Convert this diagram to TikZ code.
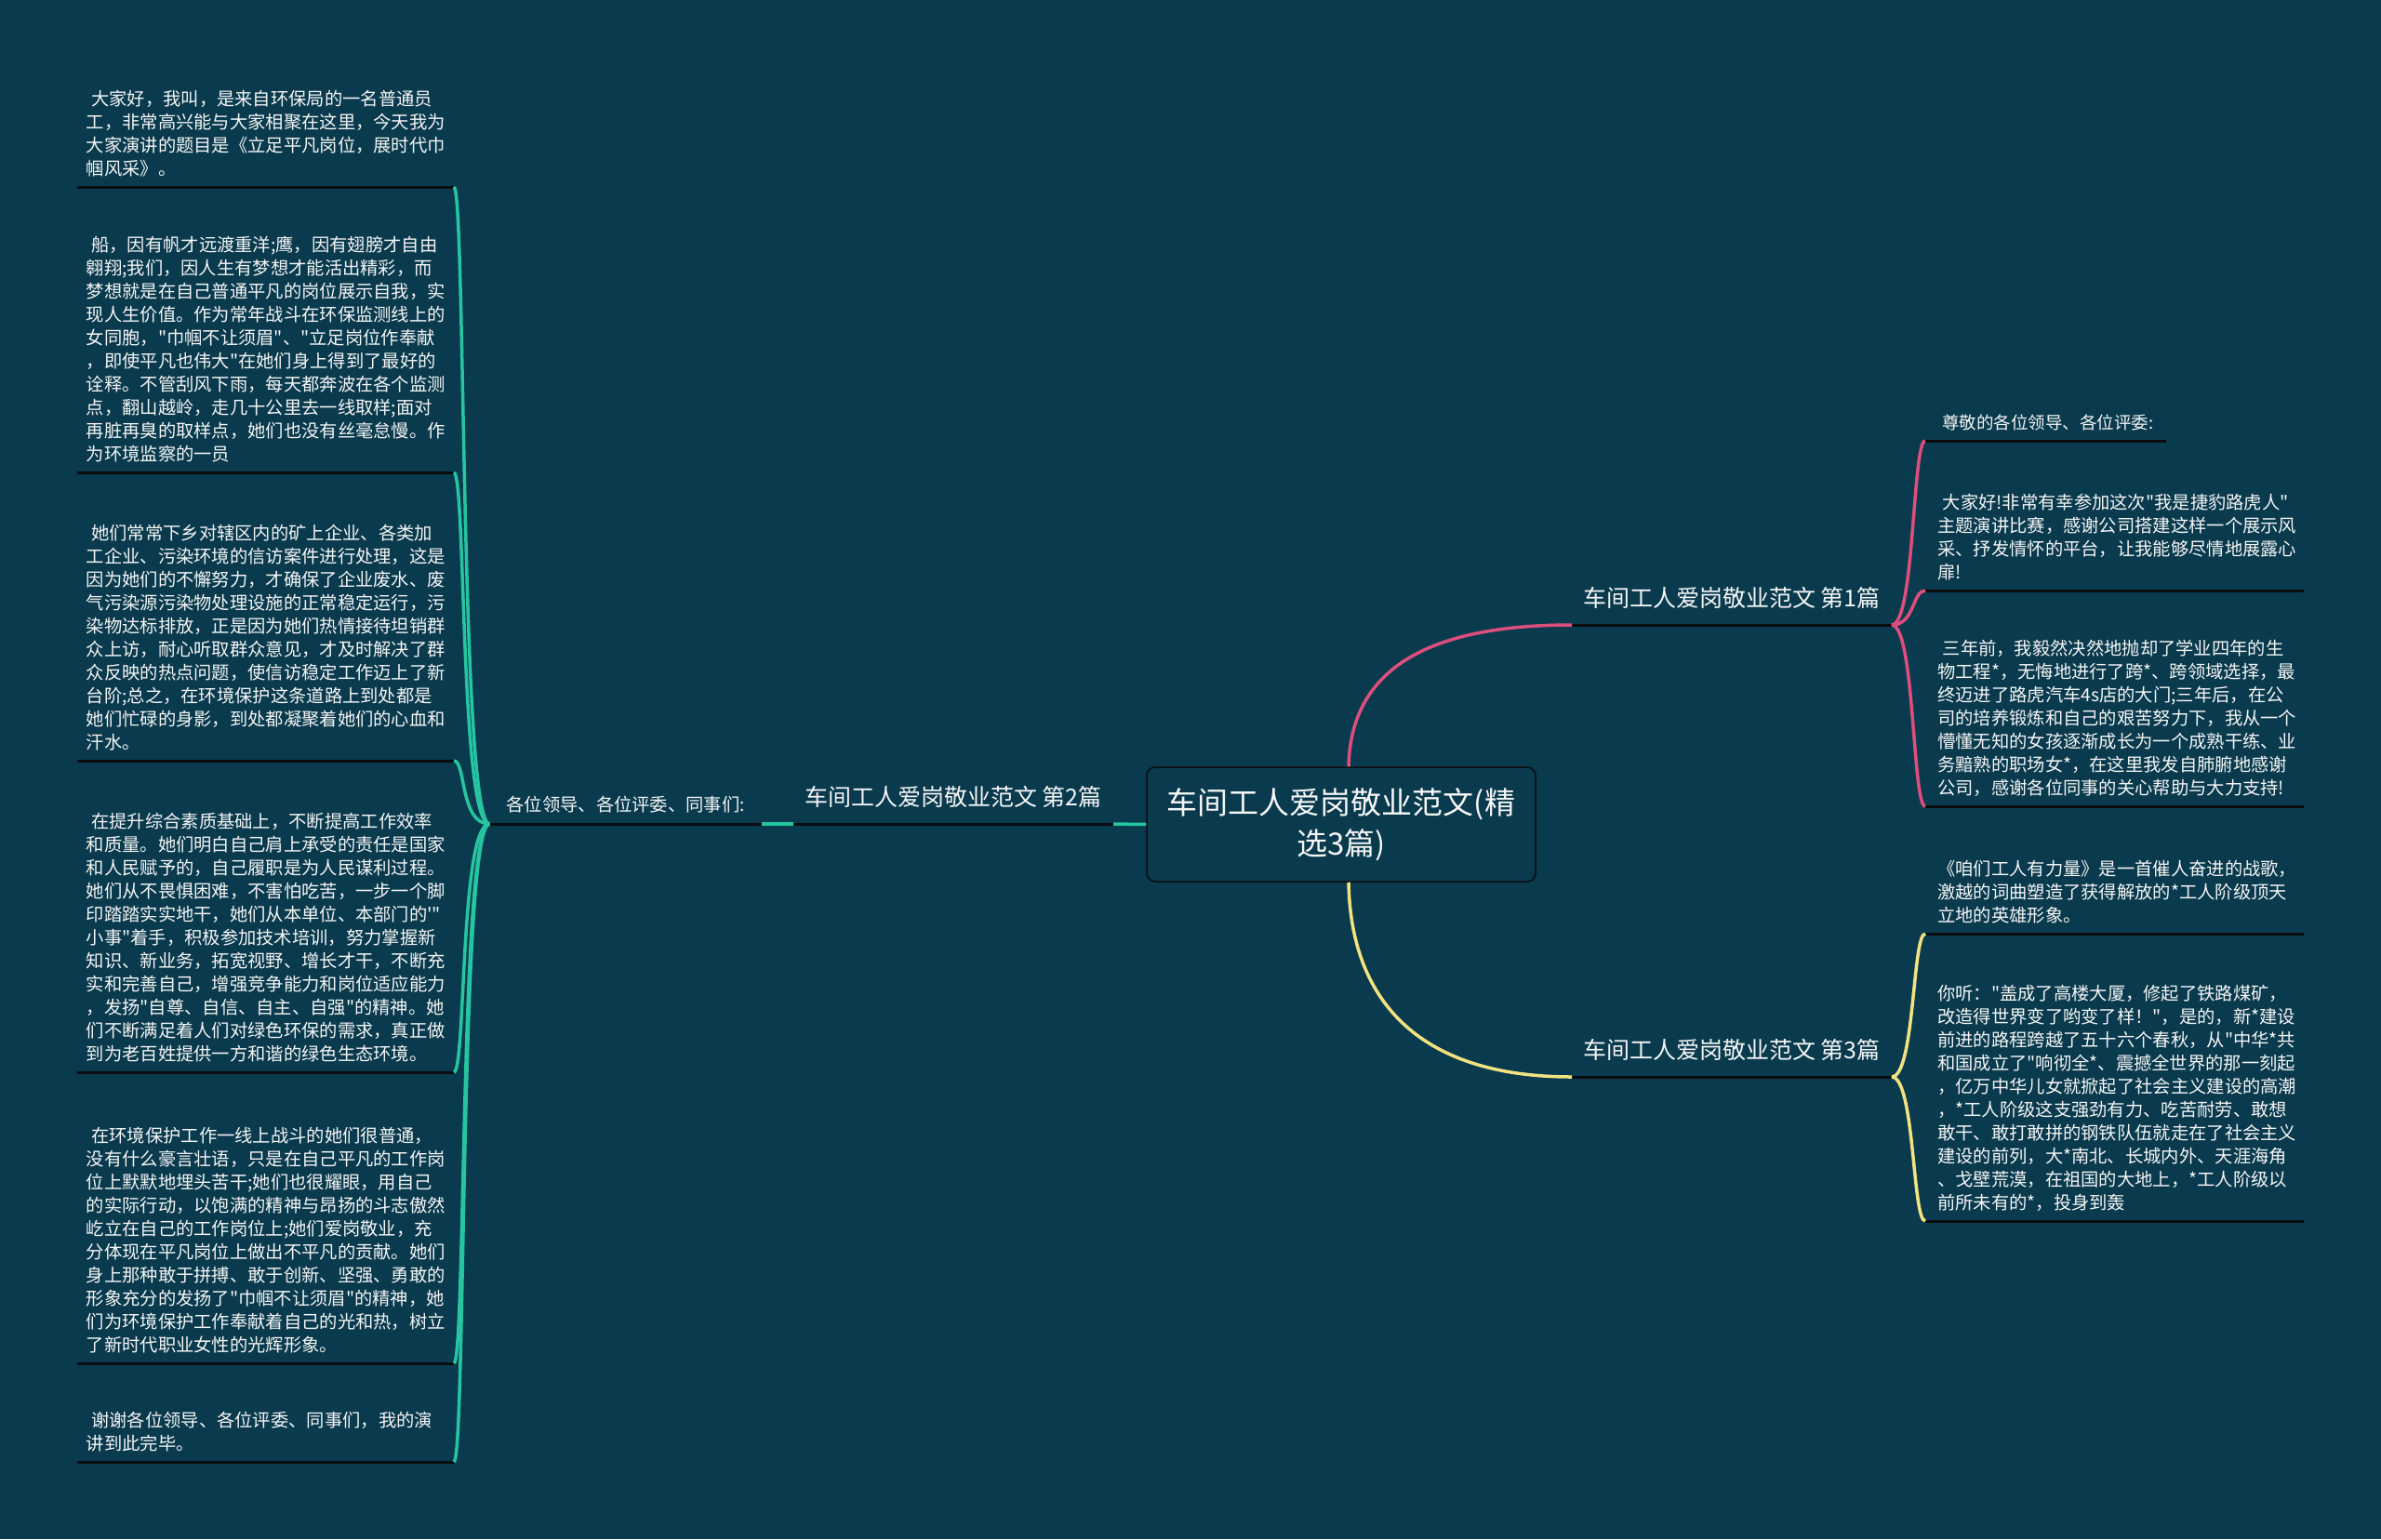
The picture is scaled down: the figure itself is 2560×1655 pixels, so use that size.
\documentclass[tikz,border=0pt]{standalone}
\usepackage{fontspec}
\newfontfamily\cjk{Noto Sans CJK SC}
\definecolor{bg}{RGB}{9,58,77}
\definecolor{tealc}{RGB}{38,196,160}
\definecolor{pinkc}{RGB}{222,78,124}
\definecolor{yelc}{RGB}{242,226,128}
\definecolor{ulc}{RGB}{10,12,14}
\definecolor{txt}{RGB}{246,246,246}
\tikzset{
  box/.style={font=\cjk\fontsize{19.3}{25}\selectfont, text=txt, align=left, inner xsep=10pt, inner ysep=5pt, text width=385pt},
  rbox/.style={box, inner xsep=13pt, text width=381pt},
  topic/.style={font=\cjk\fontsize{25}{32}\selectfont, text=txt, inner xsep=12pt, inner ysep=9.5pt},
  subtopic/.style={font=\cjk\fontsize{19.3}{25}\selectfont, text=txt, inner xsep=18pt, inner ysep=6pt},
  root/.style={draw=ulc, line width=1.5pt, rounded corners=9pt, fill=bg, minimum width=418pt, minimum height=123pt, font=\cjk\fontsize{33}{44}\selectfont, text=txt, align=center, inner sep=0pt},
  uline/.style={draw=ulc, line width=3pt},
  tline/.style={draw=tealc, line width=3.5pt},
  pline/.style={draw=pinkc, line width=3.5pt},
  yline/.style={draw=yelc, line width=3.5pt},
}
\begin{document}
\begin{tikzpicture}[x=1pt,y=-1pt]
\useasboundingbox (0,0) rectangle (2560,1655);
\fill[bg] (0,0) rectangle (2560,1655);

% root
\node[root] (c) at (1442,886.5) {车间工人爱岗敬业范文(精\\选3篇)};

% topics
\node[topic, anchor=south west] (l1) at (1690,672) {车间工人爱岗敬业范文 第1篇\strut};
\node[topic, anchor=south east] (l2) at (1197,886) {车间工人爱岗敬业范文 第2篇\strut};
\node[topic, anchor=south west] (l3) at (1690,1158) {车间工人爱岗敬业范文 第3篇\strut};
\node[subtopic, anchor=south east] (sub) at (819,886) {各位领导、各位评委、同事们:\strut};

% left boxes
\node[box, anchor=south east] (t1) at (488,201) {\hspace*{5.5pt}大家好，我叫，是来自环保局的一名普通员\\
工，非常高兴能与大家相聚在这里，今天我为\\
大家演讲的题目是《立足平凡岗位，展时代巾\\
帼风采》。\strut};

\node[box, anchor=south east] (t2) at (488,508) {\hspace*{5.5pt}船，因有帆才远渡重洋;鹰，因有翅膀才自由\\
翱翔;我们，因人生有梦想才能活出精彩，而\\
梦想就是在自己普通平凡的岗位展示自我，实\\
现人生价值。作为常年战斗在环保监测线上的\\
女同胞，"巾帼不让须眉"、"立足岗位作奉献\\
，即使平凡也伟大"在她们身上得到了最好的\\
诠释。不管刮风下雨，每天都奔波在各个监测\\
点，翻山越岭，走几十公里去一线取样;面对\\
再脏再臭的取样点，她们也没有丝毫怠慢。作\\
为环境监察的一员\strut};

\node[box, anchor=south east] (t3) at (488,818) {\hspace*{5.5pt}她们常常下乡对辖区内的矿上企业、各类加\\
工企业、污染环境的信访案件进行处理，这是\\
因为她们的不懈努力，才确保了企业废水、废\\
气污染源污染物处理设施的正常稳定运行，污\\
染物达标排放，正是因为她们热情接待坦销群\\
众上访，耐心听取群众意见，才及时解决了群\\
众反映的热点问题，使信访稳定工作迈上了新\\
台阶;总之，在环境保护这条道路上到处都是\\
她们忙碌的身影，到处都凝聚着她们的心血和\\
汗水。\strut};

\node[box, anchor=south east] (t4) at (488,1153) {\hspace*{5.5pt}在提升综合素质基础上，不断提高工作效率\\
和质量。她们明白自己肩上承受的责任是国家\\
和人民赋予的，自己履职是为人民谋利过程。\\
她们从不畏惧困难，不害怕吃苦，一步一个脚\\
印踏踏实实地干，她们从本单位、本部门的'"\\
小事"着手，积极参加技术培训，努力掌握新\\
知识、新业务，拓宽视野、增长才干，不断充\\
实和完善自己，增强竞争能力和岗位适应能力\\
，发扬"自尊、自信、自主、自强"的精神。她\\
们不断满足着人们对绿色环保的需求，真正做\\
到为老百姓提供一方和谐的绿色生态环境。\strut};

\node[box, anchor=south east] (t5) at (488,1466) {\hspace*{5.5pt}在环境保护工作一线上战斗的她们很普通，\\
没有什么豪言壮语，只是在自己平凡的工作岗\\
位上默默地埋头苦干;她们也很耀眼，用自己\\
的实际行动，以饱满的精神与昂扬的斗志傲然\\
屹立在自己的工作岗位上;她们爱岗敬业，充\\
分体现在平凡岗位上做出不平凡的贡献。她们\\
身上那种敢于拼搏、敢于创新、坚强、勇敢的\\
形象充分的发扬了"巾帼不让须眉"的精神，她\\
们为环境保护工作奉献着自己的光和热，树立\\
了新时代职业女性的光辉形象。\strut};

\node[box, anchor=south east] (t6) at (488,1572) {\hspace*{5.5pt}谢谢各位领导、各位评委、同事们，我的演\\
讲到此完毕。\strut};

% right boxes
\node[subtopic, font=\cjk\fontsize{18.5}{25}\selectfont, inner xsep=13pt, inner ysep=5pt, anchor=south west] (r1a) at (2070,474) {\hspace*{5pt}尊敬的各位领导、各位评委:\strut};

\node[rbox, anchor=south west] (r1b) at (2070,635) {\hspace*{5.5pt}大家好!非常有幸参加这次"我是捷豹路虎人"\\
主题演讲比赛，感谢公司搭建这样一个展示风\\
采、抒发情怀的平台，让我能够尽情地展露心\\
扉!\strut};

\node[rbox, anchor=south west] (r1c) at (2070,867) {\hspace*{5.5pt}三年前，我毅然决然地抛却了学业四年的生\\
物工程*，无悔地进行了跨*、跨领域选择，最\\
终迈进了路虎汽车4s店的大门;三年后，在公\\
司的培养锻炼和自己的艰苦努力下，我从一个\\
懵懂无知的女孩逐渐成长为一个成熟干练、业\\
务黯熟的职场女*，在这里我发自肺腑地感谢\\
公司，感谢各位同事的关心帮助与大力支持!\strut};

\node[rbox, anchor=south west] (r3a) at (2070,1004) {《咱们工人有力量》是一首催人奋进的战歌，\\
激越的词曲塑造了获得解放的*工人阶级顶天\\
立地的英雄形象。\strut};

\node[rbox, anchor=south west] (r3b) at (2070,1313) {你听："盖成了高楼大厦，修起了铁路煤矿，\\
改造得世界变了哟变了样！"，是的，新*建设\\
前进的路程跨越了五十六个春秋，从"中华*共\\
和国成立了"响彻全*、震撼全世界的那一刻起\\
，亿万中华儿女就掀起了社会主义建设的高潮\\
，*工人阶级这支强劲有力、吃苦耐劳、敢想\\
敢干、敢打敢拼的钢铁队伍就走在了社会主义\\
建设的前列，大*南北、长城内外、天涯海角\\
、戈壁荒漠，在祖国的大地上，*工人阶级以\\
前所未有的*，投身到轰\strut};

% underlines
\foreach \n in {l1,l2,l3,sub,t1,t2,t3,t4,t5,t6,r1a,r1b,r1c,r3a,r3b}
  \draw[uline] (\n.south west) -- (\n.south east);

% connectors
\draw[pline] ([xshift=8pt]c.north) .. controls +(2,-95) and +(-170,0) .. (l1.south west);
\draw[yline] ([xshift=8pt]c.south) .. controls +(2,122) and +(-170,0) .. (l3.south west);
\draw[tline] (c.west) -- (l2.south east);
\draw[tline] (l2.south west) -- (sub.south east);
\foreach \n in {t1,t2,t3,t4,t5,t6}
  \draw[tline] (sub.south west) .. controls +(-32,0) and +(13,0) .. (\n.south east);
\foreach \n in {r1a,r1b,r1c}
  \draw[pline] (l1.south east) .. controls +(25,0) and +(-14,0) .. (\n.south west);
\foreach \n in {r3a,r3b}
  \draw[yline] (l3.south east) .. controls +(25,0) and +(-14,0) .. (\n.south west);
\end{tikzpicture}
\end{document}
